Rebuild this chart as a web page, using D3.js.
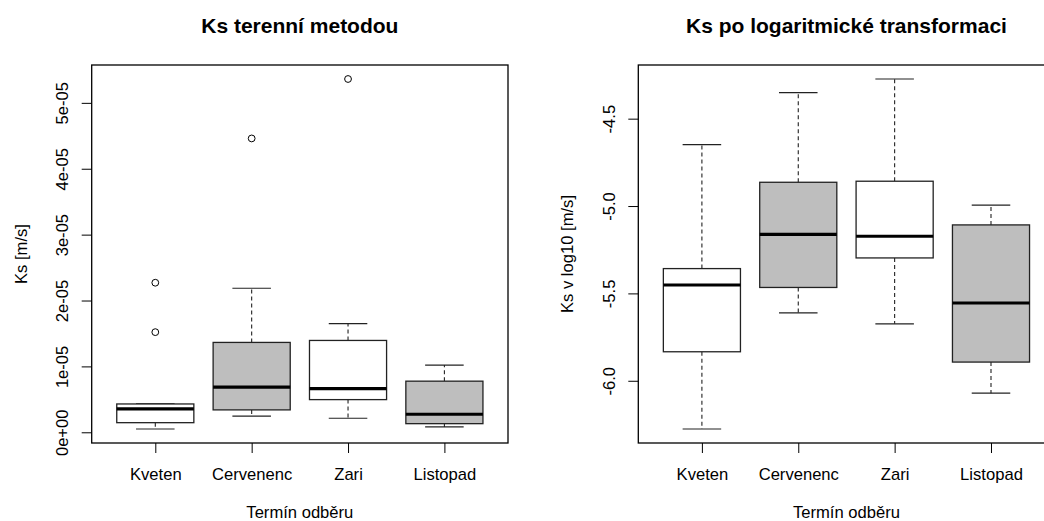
<!DOCTYPE html>
<html>
<head>
<meta charset="utf-8">
<script src="https://cdn.jsdelivr.net/npm/d3@7"></script>
<style>
  body { margin: 0; background: #fff; }
  text { font-family: "Liberation Sans", Arial, sans-serif; fill: #000; }
</style>
</head>
<body>
<div id="app"></div>
<script>
// categories
const terminy = ['Kveten', 'Cervenenc', 'Zari', 'Listopad'];

// Ks [m/s] - box statistics
const ksLow  = [5.0e-7, 2.44e-6, 2.13e-6, 8.1e-7];
const ksQ1   = [1.46e-6, 3.40e-6, 4.96e-6, 1.31e-6];
const ksMed  = [3.55e-6, 6.85e-6, 6.64e-6, 2.74e-6];
const ksQ3   = [4.30e-6, 1.364e-5, 1.394e-5, 7.76e-6];
const ksHigh = [4.30e-6, 2.186e-5, 1.648e-5, 1.02e-5];
const ksOut  = [[2.27e-5, 1.52e-5], [4.46e-5], [5.362e-5], []];
const ksTicks = [0, 1e-5, 2e-5, 3e-5, 4e-5, 5e-5];
const ksTickLabels = ['0e+00', '1e-05', '2e-05', '3e-05', '4e-05', '5e-05'];

// log10(Ks)
const logLow  = [-6.276, -5.612, -5.674, -6.071];
const logQ1   = [-5.834, -5.466, -5.297, -5.893];
const logMed  = [-5.452, -5.162, -5.173, -5.555];
const logQ3   = [-5.358, -4.864, -4.858, -5.108];
const logHigh = [-4.649, -4.351, -4.273, -4.995];
const logOut  = [[], [], [], []];
const logTicks = [-6.0, -5.5, -5.0, -4.5];
const logTickLabels = ['-6.0', '-5.5', '-5.0', '-4.5'];

const boxFills = ['#ffffff', '#bebebe', '#ffffff', '#bebebe'];

const W = 1044, H = 521;
const svg = d3.select('#app').append('svg')
  .attr('width', W)
  .attr('height', H)
  .style('display', 'block');

function panel(opts) {
  let x0 = opts.left, x1 = opts.left + 416.3;
  let y0 = 65, y1 = 443;

  let stats = terminy.map((t, i) => ({
    name: t, i: i + 1,
    low: opts.low[i], q1: opts.q1[i], med: opts.med[i], q3: opts.q3[i], high: opts.high[i],
    out: opts.out[i], fill: boxFills[i]
  }));

  // R style ranges: extend by 4% on each side
  let all = [];
  stats.forEach(s => { all.push(s.low, s.high); s.out.forEach(o => all.push(o)); });
  let lo = d3.min(all), hi = d3.max(all), pad = (hi - lo) * 0.04;

  let xScale = d3.scaleLinear().domain([0.34, 4.66]).range([x0, x1]);
  let yScale = d3.scaleLinear().domain([lo - pad, hi + pad]).range([y1, y0]);

  let g = svg.append('g');

  // y axis
  let yAxis = d3.axisLeft(yScale)
    .tickValues(opts.ticks)
    .tickFormat((d, i) => opts.tickLabels[i])
    .tickSize(10)
    .tickSizeOuter(0);
  let yg = g.append('g')
    .attr('transform', 'translate(' + x0 + ',0)')
    .call(yAxis);
  yg.select('.domain').remove();
  yg.selectAll('line').attr('stroke', '#000');
  yg.selectAll('text')
    .attr('x', null).attr('dy', null)
    .attr('transform', 'translate(-23.4,0) rotate(-90)')
    .attr('text-anchor', 'middle')
    .style('font-size', '16.6px')
    .style('font-family', '"Liberation Sans", Arial, sans-serif')
    .attr('fill', '#000');

  // x axis
  let xAxis = d3.axisBottom(xScale)
    .tickValues([1, 2, 3, 4])
    .tickFormat((d) => terminy[d - 1])
    .tickSize(10)
    .tickSizeOuter(0);
  let xg = g.append('g')
    .attr('transform', 'translate(0,' + y1 + ')')
    .call(xAxis);
  xg.select('.domain').remove();
  xg.selectAll('line').attr('stroke', '#000');
  xg.selectAll('text')
    .attr('y', 37).attr('dy', null)
    .style('font-size', '16.6px')
    .style('font-family', '"Liberation Sans", Arial, sans-serif')
    .attr('fill', '#000');

  let bw = 0.4, sw = 0.2;
  let boxes = g.selectAll('g.box').data(stats).enter().append('g').attr('class', 'box');

  // whiskers (dashed)
  boxes.append('line')
    .attr('x1', d => xScale(d.i)).attr('x2', d => xScale(d.i))
    .attr('y1', d => yScale(d.q3)).attr('y2', d => yScale(d.high))
    .attr('stroke', '#222').attr('stroke-width', 1.1).attr('stroke-dasharray', '4,3');
  boxes.append('line')
    .attr('x1', d => xScale(d.i)).attr('x2', d => xScale(d.i))
    .attr('y1', d => yScale(d.q1)).attr('y2', d => yScale(d.low))
    .attr('stroke', '#222').attr('stroke-width', 1.1).attr('stroke-dasharray', '4,3');

  // staples
  ['low', 'high'].forEach(k => {
    boxes.append('line')
      .attr('x1', d => xScale(d.i - sw)).attr('x2', d => xScale(d.i + sw))
      .attr('y1', d => yScale(d[k])).attr('y2', d => yScale(d[k]))
      .attr('stroke', '#222').attr('stroke-width', 1.2);
  });

  // box
  boxes.append('rect')
    .attr('x', d => xScale(d.i - bw))
    .attr('width', d => xScale(d.i + bw) - xScale(d.i - bw))
    .attr('y', d => yScale(d.q3))
    .attr('height', d => yScale(d.q1) - yScale(d.q3))
    .attr('fill', d => d.fill)
    .attr('stroke', '#222').attr('stroke-width', 1.3);

  // median
  boxes.append('line')
    .attr('x1', d => xScale(d.i - bw)).attr('x2', d => xScale(d.i + bw))
    .attr('y1', d => yScale(d.med)).attr('y2', d => yScale(d.med))
    .attr('stroke', '#000').attr('stroke-width', 3.2);

  // outliers
  boxes.selectAll('circle')
    .data(d => d.out.map(v => ({ i: d.i, v: v })))
    .enter().append('circle')
    .attr('cx', d => xScale(d.i))
    .attr('cy', d => yScale(d.v))
    .attr('r', 3.4)
    .attr('fill', 'none')
    .attr('stroke', '#000').attr('stroke-width', 1);

  // frame
  g.append('rect')
    .attr('x', x0).attr('y', y0)
    .attr('width', x1 - x0).attr('height', y1 - y0)
    .attr('fill', 'none').attr('stroke', '#000').attr('stroke-width', 1.3);

  // titles
  let cx = (x0 + x1) / 2;
  g.append('text')
    .attr('x', cx).attr('y', 33)
    .attr('text-anchor', 'middle')
    .style('font-size', '21px').style('font-weight', 'bold')
    .text(opts.title);
  g.append('text')
    .attr('x', cx).attr('y', 517.5)
    .attr('text-anchor', 'middle')
    .style('font-size', '16.6px')
    .text('Termín odběru');
  g.append('text')
    .attr('transform', 'translate(' + (x0 - 65) + ',' + ((y0 + y1) / 2) + ') rotate(-90)')
    .attr('text-anchor', 'middle')
    .style('font-size', '16.6px')
    .text(opts.ylab);
}

panel({
  left: 91.7, title: 'Ks terenní metodou', ylab: 'Ks [m/s]',
  low: ksLow, q1: ksQ1, med: ksMed, q3: ksQ3, high: ksHigh, out: ksOut,
  ticks: ksTicks, tickLabels: ksTickLabels
});

panel({
  left: 638.3, title: 'Ks po logaritmické transformaci', ylab: 'Ks v log10 [m/s]',
  low: logLow, q1: logQ1, med: logMed, q3: logQ3, high: logHigh, out: logOut,
  ticks: logTicks, tickLabels: logTickLabels
});
</script>
</body>
</html>
